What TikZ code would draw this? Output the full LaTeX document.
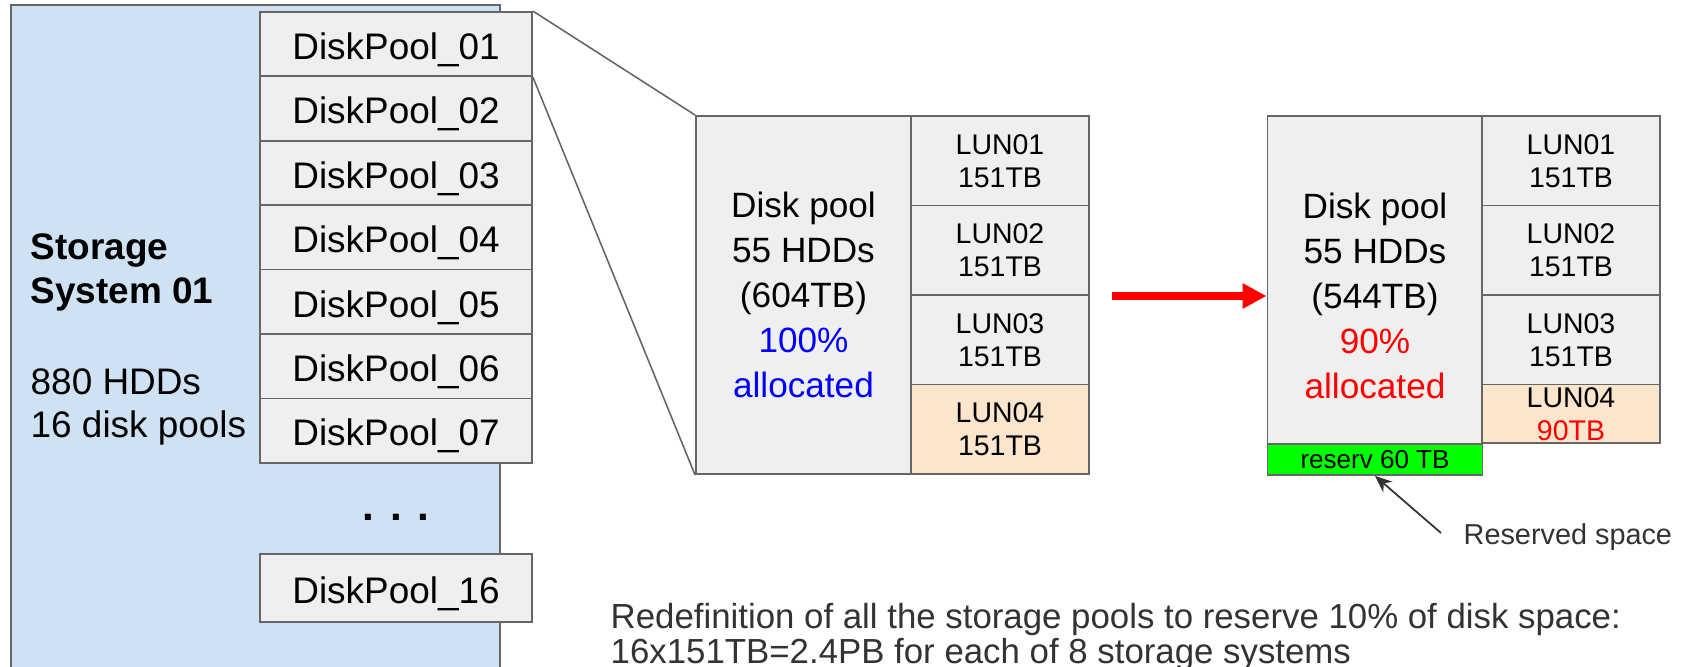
\documentclass[tikz,border=0pt]{standalone}
\usepackage{fontspec}
\setmainfont{Liberation Sans}
\usetikzlibrary{arrows.meta,calc}

\definecolor{sysblue}{HTML}{CFE2F3}
\definecolor{boxgray}{HTML}{EFEFEF}
\definecolor{edgegray}{HTML}{666666}
\definecolor{lunpeach}{HTML}{FCE5CD}
\definecolor{resgreen}{HTML}{00FF00}
\definecolor{notegray}{HTML}{333333}

\tikzset{
  poolbox/.style={draw=edgegray,fill=boxgray,line width=0.5pt,minimum width=2.72cm,
    minimum height=0.644cm,inner sep=0pt,text height=0.87em,text depth=0pt,
    font=\fontsize{10.5}{12}\selectfont},
  lunbox/.style={draw=edgegray,fill=boxgray,line width=0.5pt,minimum width=1.78cm,
    minimum height=0.895cm,inner sep=0pt,align=center,font=\fontsize{8.1}{9.4}\selectfont},
  bigbox/.style={draw=edgegray,fill=boxgray,line width=0.5pt,minimum width=2.15cm,inner sep=0pt},
  pooltext/.style={align=center,inner sep=0pt,font=\fontsize{10}{12.8}\selectfont},
  systext/.style={anchor=base west,inner sep=0pt,font=\fontsize{10.5}{12}\selectfont},
}

\begin{document}
\begin{tikzpicture}[x=0.01cm,y=-0.01cm]
\clip (0,0) rectangle (1684,667);

% Storage system
\node[draw=edgegray,fill=sysblue,line width=0.5pt,anchor=north west,inner sep=0pt,
  minimum width=4.89cm,minimum height=7cm] (sys) at (10,4) {};
\node[systext,font=\bfseries\fontsize{10.5}{12}\selectfont] (sysname1) at (30,260) {Storage};
\node[systext,font=\bfseries\fontsize{10.5}{12}\selectfont] (sysname2) at (30,304) {System 01};
\node[systext] (syshdd) at (30,394) {880 HDDs};
\node[systext] (syspools) at (30,438) {16 disk pools};

% Disk pools
\node[poolbox] (dp01) at (396,44.2) {DiskPool\_01};
\node[poolbox] (dp02) at (396,108.6) {DiskPool\_02};
\node[poolbox] (dp03) at (396,173) {DiskPool\_03};
\node[poolbox] (dp04) at (396,237.4) {DiskPool\_04};
\node[poolbox] (dp05) at (396,301.8) {DiskPool\_05};
\node[poolbox] (dp06) at (396,366.2) {DiskPool\_06};
\node[poolbox] (dp07) at (396,430.6) {DiskPool\_07};
\node[inner sep=0pt,font=\bfseries\fontsize{12}{14}\selectfont] (dots) at (396,517) {. . .};
\node[poolbox,minimum height=0.68cm] (dp16) at (396,588) {DiskPool\_16};

% Pool before
\node[bigbox,minimum height=3.58cm] (oldpool) at (803.5,295) {};
\node[pooltext] (oldtext) at (oldpool.center) {Disk pool\\55 HDDs\\(604TB)\\
  \textcolor{blue}{100\%}\\\textcolor{blue}{allocated}};
\node[lunbox] (oldlun1) at (1000,160.75) {LUN01\\151TB};
\node[lunbox] (oldlun2) at (1000,250.25) {LUN02\\151TB};
\node[lunbox] (oldlun3) at (1000,339.75) {LUN03\\151TB};
\node[lunbox,fill=lunpeach] (oldlun4) at (1000,429.25) {LUN04\\151TB};

\draw[edgegray,line width=0.45pt] (dp01.north east) -- (oldpool.north west);
\draw[edgegray,line width=0.45pt] (dp01.south east) -- (oldpool.south west);

% Pool after
\node[bigbox,minimum height=3.28cm] (newpool) at (1375,280) {};
\node[bigbox,fill=resgreen,minimum height=0.31cm,font=\fontsize{7.4}{9}\selectfont]
  (reserve) at (1375,459.5) {reserv 60 TB};
\node[pooltext] (newtext) at ($(newpool.north)!0.5!(reserve.south)$) {Disk pool\\55 HDDs\\(544TB)\\
  \textcolor{red}{90\%}\\\textcolor{red}{allocated}};
\node[lunbox] (newlun1) at (1571,160.75) {LUN01\\151TB};
\node[lunbox] (newlun2) at (1571,250.25) {LUN02\\151TB};
\node[lunbox] (newlun3) at (1571,339.75) {LUN03\\151TB};
\node[lunbox,fill=lunpeach,minimum height=0.585cm] (newlun4) at (1571,413.75) {LUN04\\\textcolor{red}{90TB}};

\coordinate (arrowtail) at (1112,296);
\draw[red,line width=2pt,-{Triangle[length=0.24cm,width=0.24cm]}] (arrowtail) -- (arrowtail -| newpool.west);

% Notes
\node[anchor=west,inner sep=0pt,text=notegray,font=\fontsize{8.2}{10}\selectfont] (resnote) at (1463,537) {Reserved space};
\coordinate (notetail) at (1441,533);
\draw[notegray,line width=0.5pt,-{Stealth[length=0.17cm,width=0.14cm]}] (notetail) -- (reserve.south);

\node[anchor=base west,inner sep=0pt,text=notegray,font=\fontsize{9.9}{11}\selectfont] (note1) at (610,628)
  {Redefinition of all the storage pools to reserve 10\% of disk space:};
\node[anchor=base west,inner sep=0pt,text=notegray,font=\fontsize{9.9}{11}\selectfont] (note2) at (610,663)
  {16x151TB=2.4PB for each of 8 storage systems};
\end{tikzpicture}
\end{document}
